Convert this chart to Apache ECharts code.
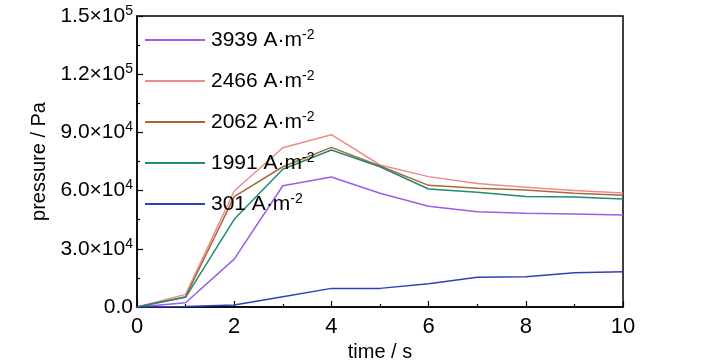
<!DOCTYPE html>
<html><head><meta charset="utf-8">
<script src="https://cdn.jsdelivr.net/npm/echarts@6/dist/echarts.min.js"></script>
<style>html,body{margin:0;padding:0;background:#fff}#c{width:728px;height:364px}</style>
</head><body><div id="c"></div>
<script>
var times = [0,1,2,3,4,5,6,7,8,9,10];
var seriesNames = ['3939 A·m', '2466 A·m', '2062 A·m', '1991 A·m', '301 A·m'];
var s3939 = [0, 2200, 24700, 62500, 67000, 58600, 51900, 49100, 48300, 47900, 47400];
var s2466 = [0, 6500, 59800, 82100, 88800, 73200, 67200, 63600, 61700, 60000, 58800];
var s2062 = [0, 5300, 56900, 72300, 82300, 72700, 62700, 61200, 60300, 58600, 57600];
var s1991 = [0, 5000, 45200, 71000, 80900, 72300, 60800, 59100, 56900, 56700, 55700];
var s301  = [0, 200, 1000, 5300, 9600, 9600, 12000, 15300, 15600, 17700, 18200];
var colors = ['#9a5ee8', '#f08a8a', '#a8683a', '#208a78', '#3040b8'];

var FONT = '"Liberation Sans Narrow", "Liberation Sans", Arial, sans-serif';
var allData = [s3939, s2466, s2062, s1991, s301];

function fmtY(v) {
  if (v === 0) return '0.0';
  var e = Math.floor(Math.log10(v) + 1e-9);
  var m = v / Math.pow(10, e);
  return m.toFixed(1) + '×10{sup|' + e + '}';
}

var chart = echarts.init(document.getElementById('c'));
var series = seriesNames.map(function (n, i) {
  return {
    name: n,
    type: 'line',
    data: times.map(function (t, j) { return [t, allData[i][j]]; }),
    symbol: 'none',
    lineStyle: { color: colors[i], width: 1.5 },
    itemStyle: { color: colors[i] },
    animation: false
  };
});

chart.setOption({
  backgroundColor: '#fff',
  animation: false,
  grid: { left: 137, right: 105, top: 16, bottom: 57, outerBoundsMode: 'none', containLabel: false, show: true, borderColor: '#000', borderWidth: 1.5 },
  legend: {
    orient: 'vertical',
    left: 145, top: 28, padding: 0,
    itemWidth: 60, itemHeight: 2, itemGap: 18.5,
    icon: 'rect',
    data: seriesNames,
    formatter: function (n) { return n + '{sup|-2}'; },
    textStyle: {
      fontFamily: FONT, fontSize: 21, color: '#000', padding: [0, 0, 0, 1],
      rich: { sup: { fontFamily: FONT, fontSize: 14, color: '#000', verticalAlign: 'top', padding: [0, 0, 10, 0] } }
    }
  },
  xAxis: {
    type: 'value', min: 0, max: 10, interval: 2,
    name: 'time / s', nameLocation: 'middle', nameGap: 34,
    nameTextStyle: { fontFamily: FONT, fontSize: 20, color: '#000' },
    axisLine: { show: true, lineStyle: { color: '#000', width: 1.5 } },
    axisTick: { show: true, inside: true, length: 6, lineStyle: { color: '#000', width: 1.2 } },
    minorTick: { show: true, splitNumber: 2, length: 3, lineStyle: { color: '#000', width: 1.2 } },
    splitLine: { show: false },
    axisLabel: { fontFamily: FONT, fontSize: 22, color: '#000', margin: 9 }
  },
  yAxis: {
    type: 'value', min: 0, max: 150000, interval: 30000,
    name: 'pressure / Pa', nameLocation: 'middle', nameGap: 75,
    nameTextStyle: { fontFamily: FONT, fontSize: 20, color: '#000' },
    axisLine: { show: true, lineStyle: { color: '#000', width: 1.5 } },
    axisTick: { show: true, inside: true, length: 6, lineStyle: { color: '#000', width: 1.2 } },
    minorTick: { show: true, splitNumber: 2, length: 3, lineStyle: { color: '#000', width: 1.2 } },
    splitLine: { show: false },
    axisLabel: {
      fontFamily: FONT, fontSize: 21, color: '#000', margin: 4,
      formatter: function (v) { return fmtY(v); },
      rich: { sup: { fontFamily: FONT, fontSize: 14, color: '#000', verticalAlign: 'top', padding: [0, 0, 10, 0] } }
    }
  },
  series: series
});
</script></body></html>
